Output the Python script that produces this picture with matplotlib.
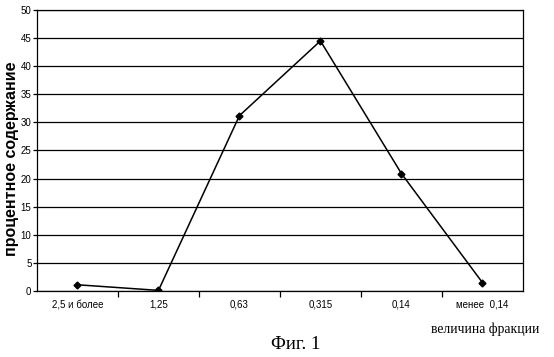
import matplotlib
matplotlib.use('Agg')
import matplotlib.pyplot as plt
import numpy as np

# fraction size categories and percentage content
categories = ['2,5 и более', '1,25', '0,63', '0,315', '0,14', 'менее  0,14']
percent = [1.1, 0.1, 31.2, 44.5, 20.9, 1.5]
yticks = [0, 5, 10, 15, 20, 25, 30, 35, 40, 45, 50]

fig = plt.figure(figsize=(5.54, 3.57), dpi=100)
ax = fig.add_axes([0.0668, 0.185, 0.877, 0.787])

x = np.arange(len(categories))
ax.plot(x, percent, color='black', lw=1.1, marker='D', ms=3.5, zorder=3)

ax.set_xlim(-0.5, len(categories) - 0.5)
ax.set_ylim(0, 50)
ax.set_yticks(yticks)
ax.set_yticklabels([str(v) for v in yticks], fontsize=7, family='Liberation Sans')
ax.yaxis.grid(True, color='black', lw=0.9)
ax.set_axisbelow(True)

# ticks between categories, labels at category centers
ax.set_xticks(np.arange(len(categories) - 1) + 0.5)
ax.set_xticklabels([])
ax.set_xticks(x, minor=True)
ax.set_xticklabels(categories, minor=True, fontsize=7, family='Liberation Sans')
ax.tick_params(axis='x', which='minor', length=0, pad=6)
ax.tick_params(axis='x', which='major', length=4, width=0.9, direction='out')
ax.tick_params(axis='y', length=3, width=0.9, pad=1)

for s in ax.spines.values():
    s.set_linewidth(0.9)
    s.set_color('black')

ax.set_ylabel('процентное содержание', fontsize=11.5, fontweight='bold',
              family='Liberation Sans', labelpad=0)
ax.yaxis.set_label_coords(-0.038, 0.47)

fig.text(0.876, 0.078, 'величина фракции', fontsize=9.8, family='Liberation Serif',
         ha='center', va='center')
fig.text(0.534, 0.036, 'Фиг. 1', fontsize=13.5, family='Liberation Serif',
         ha='center', va='center')

fig.savefig('out.png', dpi=100)
